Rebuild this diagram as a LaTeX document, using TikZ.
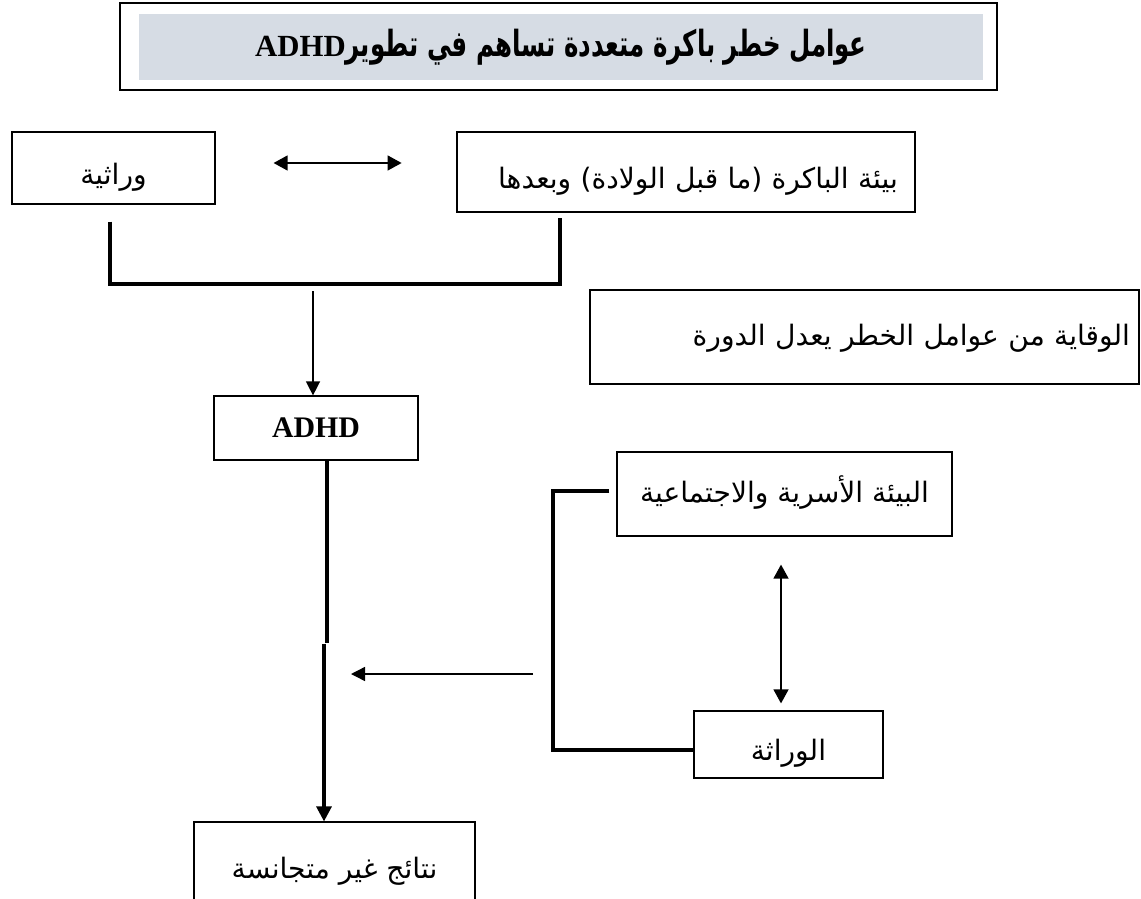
\documentclass[tikz,border=0pt]{standalone}
\usepackage{fontspec}
\setmainfont{Liberation Serif}
\newfontfamily\arabicfont[Script=Arabic]{DejaVu Sans}
\newfontfamily\arabictitle[Script=Arabic,FakeStretch=0.68]{DejaVu Sans}
\TeXXeTstate=1
\usetikzlibrary{arrows.meta,positioning,calc}
\definecolor{cTitle}{RGB}{214,220,228}
\tikzset{
  basebox/.style={rectangle,draw=black,line width=0.7pt,inner sep=0pt,
                  text height=0.85cm,text depth=0.2cm,
                  font=\arabicfont\fontsize{16}{19}\selectfont},
  midbox/.style={basebox,text height=0.58cm,text depth=0.25cm},
  framebox/.style={rectangle,draw=black,line width=1.3pt,
                   minimum width=17.54cm,minimum height=1.74cm},
  titlefill/.style={rectangle,fill=cTitle,minimum width=16.88cm,minimum height=1.32cm,
                    font=\arabictitle\bfseries\fontsize{20.5}{23}\selectfont},
  arr/.style={-{Triangle[length=0.28cm,width=0.28cm]},line width=0.8pt},
  dblarr/.style={{Triangle[length=0.28cm,width=0.3cm]}-{Triangle[length=0.28cm,width=0.3cm]},
                 line width=0.8pt},
  thkline/.style={line width=1.8pt},
  thkarr/.style={thkline,-{Triangle[length=0.3cm,width=0.3cm]}}
}
\begin{document}
\begin{tikzpicture}[x=0.02cm,y=-0.02cm]
  \clip (0,0) rectangle (1141,898);
  % title
  \node[framebox] (frame) at (558.5,46.5) {};
  \node[titlefill] (title) at (561,47)
    {\beginR عوامل خطر باكرة متعددة تساهم في تطوير\beginL\rmfamily\bfseries\fontsize{17.5}{20}\selectfont ADHD\endL\endR};
  % early risk factors
  \node[basebox,minimum width=4.06cm,minimum height=1.44cm] (her) at (113.5,168)
    {\beginR وراثية\endR};
  \node[basebox,minimum height=1.6cm,inner xsep=0.34cm,text width=8.48cm,align=right]
    (env) at (686,172) {\beginR بيئة الباكرة (ما قبل الولادة) وبعدها\endR};
  \node[midbox,minimum height=1.88cm,inner xsep=0.18cm,text width=10.62cm,align=right]
    (prev) at (864.5,337) {\beginR الوقاية من عوامل الخطر يعدل الدورة\endR};
  \node[basebox,minimum width=4.08cm,minimum height=1.28cm,text height=,text depth=,
        font=\rmfamily\bfseries\fontsize{17}{20}\selectfont] (adhd) at (316,428) {ADHD};
  % later factors
  \node[midbox,minimum width=6.7cm,minimum height=1.68cm] (fam) at (784.5,494)
    {\beginR البيئة الأسرية والاجتماعية\endR};
  \node[basebox,minimum width=3.78cm,minimum height=1.34cm] (gen) at (788.5,744.5)
    {\beginR الوراثة\endR};
  \node[basebox,minimum width=5.62cm,minimum height=1.76cm,text height=0.7cm] (out) at (334.5,866)
    {\beginR نتائج غير متجانسة\endR};

  % connectors
  \draw[dblarr] ([shift={(58,-5)}]her.east) -- ([shift={(186,-5)}]her.east);
  \coordinate (jm) at (313,284);
  \draw[thkline] ([shift={(-3.5,17)}]her.south) |- (jm) -| ([shift={(-126,5)}]env.south);
  \draw[arr] ([shift={(0,7)}]jm) -- (jm |- adhd.north);
  \draw[thkline] ([shift={(11,0)}]adhd.south) -- ++(0,182) coordinate (kink);
  \draw[thkarr] ([shift={(-3,1)}]kink) -- ([shift={(-3,0)}]kink |- out.north);
  \coordinate (fb) at (533,674);
  \draw[arr] (fb) -- ++(-182,0);
  \coordinate (bb) at (553,750);
  \draw[thkline] ([shift={(-7,-3)}]fam.west) -| (bb) -- (bb -| gen.west);
  \coordinate (va) at ([xshift=-0.07cm]fam.south);
  \draw[dblarr,shorten <=0.56cm,shorten >=0.14cm] (va) -- (va |- gen.north);
\end{tikzpicture}
\end{document}
